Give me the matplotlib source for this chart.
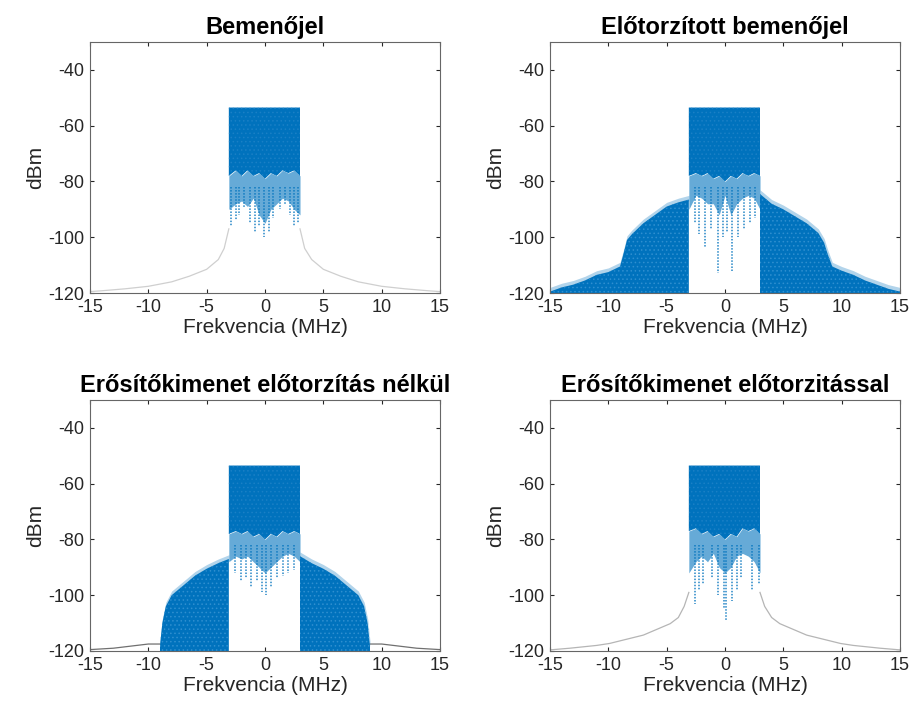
import matplotlib.pyplot as plt
import numpy as np

plt.rcParams['font.family'] = ['Liberation Sans', 'DejaVu Sans']
plt.rcParams['axes.unicode_minus'] = False
plt.rcParams['hatch.linewidth'] = 0.6

BLUE = '#0072BD'
titles = ['Bemenőjel', 'Előtorzított bemenőjel',
          'Erősítőkimenet előtorzítás nélkül', 'Erősítőkimenet előtorzitással']
xticks = [-15, -10, -5, 0, 5, 10, 15]
yticks = [-120, -100, -80, -60, -40]

# in-band part (MHz / dBm)
band_f = [-3.1, -2.5, -2.0, -1.5, -1.0, -0.5, 0.0, 0.5, 1.0, 1.5, 2.0, 2.5, 3.0]
band_top = [-53.5] * 13
solid_lo = [
    [-78, -76, -78, -76, -78, -77, -79, -77, -78, -76, -77, -76, -78],
    [-78, -77, -78, -77, -79, -78, -80, -78, -79, -77, -78, -77, -78],
    [-78, -77, -78, -77, -79, -78, -80, -78, -79, -77, -78, -77, -78],
    [-77, -76, -78, -77, -79, -78, -80, -78, -79, -76, -77, -76, -78],
]
speck_lo = [
    [-90, -88, -87, -89, -86, -92, -95, -90, -88, -86, -87, -90, -92],
    [-90, -85, -86, -88, -88, -92, -85, -92, -88, -86, -85, -86, -90],
    [-88, -86, -87, -86, -88, -90, -92, -90, -88, -86, -85, -86, -88],
    [-92, -88, -86, -88, -85, -90, -92, -90, -86, -85, -86, -88, -92],
]
spike_f = [
    [-2.9, -2.5, -2.2, -1.8, -1.3, -0.9, -0.5, -0.1, 0.3, 0.7, 1.3, 1.7, 2.1, 2.5, 2.8],
    [-2.6, -2.2, -1.7, -1.2, -0.6, -0.2, 0.2, 0.6, 1.1, 1.6, 2.1, 2.6],
    [-2.6, -2.1, -1.6, -1.2, -0.7, -0.3, 0.1, 0.5, 1.0, 1.5, 2.0, 2.5],
    [-2.6, -2.2, -1.9, -1.1, -0.6, -0.1, 0.1, 0.6, 1.0, 1.4, 2.3, 2.9],
]
spike_lo = [
    [-96, -94, -92, -89, -95, -98, -96, -100, -98, -93, -90, -88, -92, -96, -95],
    [-95, -99, -104, -97, -113, -100, -98, -112, -100, -97, -95, -93],
    [-92, -95, -94, -97, -95, -99, -100, -97, -94, -93, -92, -91],
    [-103, -98, -96, -94, -100, -105, -109, -102, -98, -94, -98, -96],
]

# out-of-band regrowth (panels 2 and 3)
side_f = [
    None,
    [-15, -14, -13, -12, -11, -10, -9, -8.7, -8.4, -8, -7, -6, -5, -4, -3.1,
     3.0, 4, 5, 6, 7, 8, 8.5, 8.8, 9.2, 10, 11, 12, 13, 14, 15],
    [-9.0, -8.8, -8.5, -8, -7, -6, -5, -4, -3.1,
     3.0, 4, 5, 6, 7, 8, 8.5, 8.8, 9.0],
    None,
]
side_top = [
    None,
    [-119.5, -118, -117, -115.5, -113.5, -112.5, -110.5, -106, -101, -99, -95, -92, -89, -87.5, -86.5,
     -84.5, -88, -90, -92.5, -95, -98.5, -102, -106, -110.5, -112, -113.5, -115.5, -117, -118.5, -119.5],
    [-118, -110, -104, -100, -96.5, -93, -90.5, -88.5, -87,
     -86, -88.5, -90.5, -93, -96.5, -100, -104, -110, -118],
    None,
]

# faint spectral skirt (nan = hidden behind the band)
tail_f = [
    [-15, -14, -12, -10, -8, -6.5, -5, -4, -3.5, -3.1, np.nan, 3.0, 3.4, 4, 5, 6.5, 8, 10, 12, 14, 15],
    None,
    [-15, -13, -11, -10, -9, np.nan, 9, 10, 11, 13, 15],
    [-15, -13.3, -11, -9.9, -7, -4.7, -4, -3.5, -3.1, np.nan, 3.0, 3.4, 4, 4.7, 7, 9.9, 11, 13.3, 15],
]
tail_db = [
    [-119.5, -119.2, -118.5, -117.6, -116, -114, -111.5, -108, -104, -97, np.nan,
     -97, -104, -108, -111.5, -114, -116, -117.6, -118.5, -119.2, -119.5],
    None,
    [-119.5, -119, -118, -117.5, -117.5, np.nan, -117.5, -117.5, -118, -119, -119.5],
    [-119.6, -119, -118, -117.3, -114.3, -110.2, -108, -104, -99, np.nan,
     -99, -104, -108, -110.2, -114.3, -117.3, -118, -119, -119.6],
]
tail_col = ['#cfcfcf', None, '#707070', '#b5b5b5']

W, H = 913, 718
fig = plt.figure(figsize=(W / 100, H / 100), dpi=100)
boxes = [(90, 42), (550, 42), (90, 400), (550, 400)]

for i in range(4):
    x0, y0 = boxes[i]
    ax = fig.add_axes([x0 / W, 1 - (y0 + 251) / H, 350 / W, 251 / H])

    if tail_f[i] is not None:
        ax.plot(tail_f[i], tail_db[i], color=tail_col[i], lw=0.9, zorder=1)
    if side_f[i] is not None:
        sf = np.array(side_f[i])
        st = np.array(side_top[i])
        for m in (sf < 0, sf > 0):
            ax.fill_between(sf[m], -120, st[m], facecolor=BLUE, edgecolor='#2f8fd0',
                            hatch='....', lw=0, zorder=2)
            ax.fill_between(sf[m], st[m] - 0.5, st[m] + 1.5, color=BLUE, alpha=0.3, lw=0, zorder=2)

    ax.fill_between(band_f, band_top, solid_lo[i], facecolor=BLUE, edgecolor='#1a80c6',
                    hatch='....', lw=0, zorder=3)
    ax.fill_between(band_f, solid_lo[i], speck_lo[i], color=BLUE, alpha=0.6, lw=0, zorder=3)
    ax.vlines(spike_f[i], -82, spike_lo[i], color=BLUE, lw=1.1, linestyles=(0, (1, 1)),
              alpha=0.85, zorder=3)

    ax.set_xlim(-15, 15)
    ax.set_ylim(-120, -30)
    ax.set_xticks(xticks)
    ax.set_yticks(yticks)
    ax.tick_params(direction='in', length=3, labelsize=13, colors='#262626',
                   top=True, right=True, pad=4)
    for s in ax.spines.values():
        s.set_color('#666666')
        s.set_linewidth(0.8)
    ax.set_xlabel('Frekvencia (MHz)', fontsize=15, color='#262626', labelpad=2)
    ax.set_ylabel('dBm', fontsize=15, color='#262626', labelpad=2)
    ax.set_title(titles[i], fontsize=17, fontweight='bold', pad=6)

fig.savefig('out.png', dpi=100)
